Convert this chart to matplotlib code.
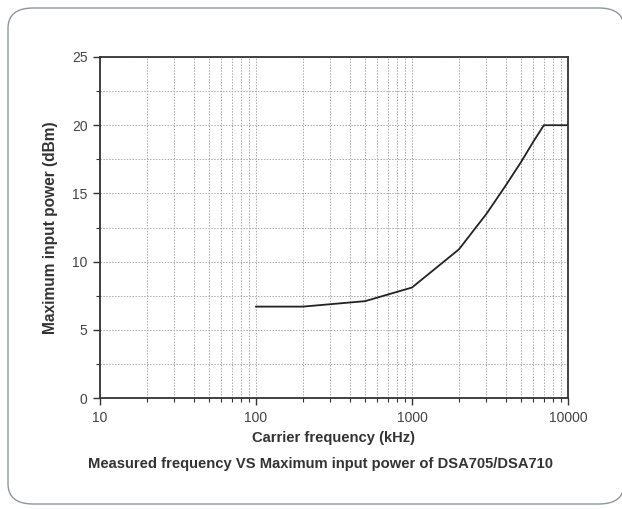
import matplotlib
matplotlib.use("Agg")
import matplotlib.pyplot as plt
from matplotlib.patches import FancyBboxPatch
from matplotlib.ticker import LogLocator, MultipleLocator, FixedFormatter, FixedLocator, NullFormatter

plt.rcParams["font.family"] = ["Liberation Sans", "DejaVu Sans"]

# dados
freq_khz = [100, 200, 500, 1000, 2000, 3000, 4000, 5000, 6000, 7000, 10000]
power_dbm = [6.7, 6.7, 7.1, 8.1, 10.9, 13.5, 15.6, 17.3, 18.8, 20.0, 20.0]
x_ticks = [10, 100, 1000, 10000]
x_tick_labels = ["10", "100", "1000", "10000"]

fig = plt.figure(figsize=(6.22, 5.09), dpi=100)

# moldura arredondada (atrás dos eixos)
frame = FancyBboxPatch((8 / 622, 5 / 509), 616 / 622, 496 / 509,
                       boxstyle="round,pad=0,rounding_size=0.04",
                       transform=fig.transFigure, facecolor="white",
                       edgecolor="#8e969c", linewidth=1.0, zorder=-1)
fig.patches.append(frame)

ax = fig.add_axes([100 / 622, 111 / 509, 468 / 622, 341 / 509])
ax.set_facecolor("none")
ax.plot(freq_khz, power_dbm, color="#222222", linewidth=1.3)

ax.set_xscale("log")
ax.set_xlim(10, 10000)
ax.set_ylim(0, 25)
ax.xaxis.set_major_locator(FixedLocator(x_ticks))
ax.xaxis.set_major_formatter(FixedFormatter(x_tick_labels))
ax.xaxis.set_minor_locator(LogLocator(base=10, subs=range(2, 10)))
ax.xaxis.set_minor_formatter(NullFormatter())
ax.yaxis.set_major_locator(MultipleLocator(5))
ax.yaxis.set_minor_locator(MultipleLocator(2.5))

ax.grid(True, which="both", linestyle=(0, (1.5, 1.5)), color="#aaaaaa", linewidth=0.7)
ax.tick_params(which="major", direction="out", length=5, width=1, colors="#333333",
               labelsize=10, labelcolor="#444444", pad=4)
ax.tick_params(axis="x", which="major", pad=4.5)
ax.tick_params(which="minor", direction="out", length=3, width=0.8, colors="#333333")
for s in ax.spines.values():
    s.set_linewidth(1.3)
    s.set_color("#333333")

ax.set_xlabel("Carrier frequency (kHz)", fontsize=10.6, fontweight="bold",
              color="#333333", labelpad=4)
ax.set_ylabel("Maximum input power (dBm)", fontsize=11.2, fontweight="bold",
              color="#333333", labelpad=10)

fig.text(320 / 622, 1 - 464 / 509, "Measured frequency VS Maximum input power of DSA705/DSA710",
         ha="center", va="center", fontsize=10.6, fontweight="bold", color="#333333")

plt.savefig("out.png", dpi=100)
plt.close()
